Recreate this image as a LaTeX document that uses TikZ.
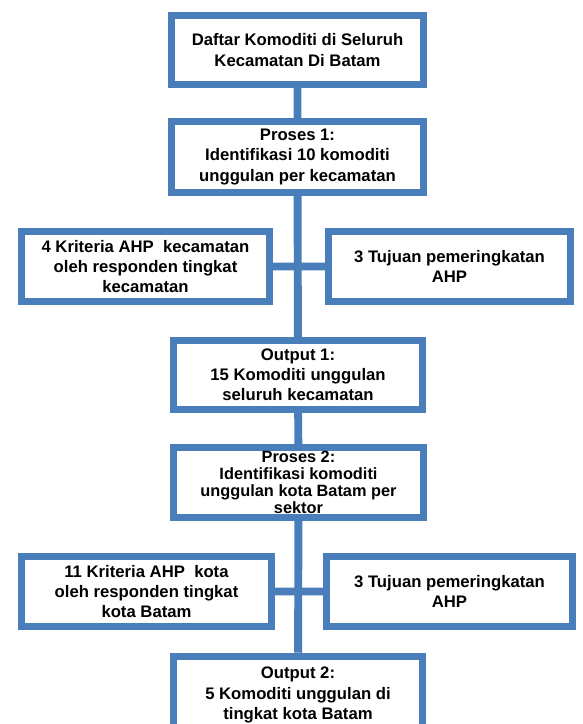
\documentclass[tikz,border=0pt]{standalone}
\usepackage{fontspec}
\setmainfont{Liberation Sans}
\usepackage{tikz}
\usepackage{xcolor}
\definecolor{boxblue}{RGB}{74,126,187}

\begin{document}
\begin{tikzpicture}[
        box/.style={rectangle, draw=boxblue, line width=4pt, fill=white, align=center,
            font=\fontsize{9.5}{11.5}\selectfont\bfseries, inner sep=2pt},
        link/.style={draw=boxblue, line width=4.5pt}]
        \useasboundingbox (0, 0) rectangle (11.66, -14.48);
        \clip (0, 0) rectangle (11.66, -14.48);

        \node[box, minimum width=5.04cm, minimum height=1.38cm] (d) at (5.95, -1.00) {Daftar Komoditi di Seluruh\\Kecamatan Di Batam};
        \node[box, minimum width=5.04cm, minimum height=1.42cm] (p1) at (5.95, -3.14) {Proses 1:\\Identifikasi 10 komoditi\\unggulan per kecamatan};
        \node[box, minimum width=4.96cm, minimum height=1.40cm] (k1) at (2.91, -5.33) {4 Kriteria AHP\ \ kecamatan\\oleh responden tingkat\\kecamatan};
        \node[box, minimum width=4.84cm, minimum height=1.40cm] (t1) at (8.99, -5.33) {3 Tujuan pemeringkatan\\AHP};
        \node[box, minimum width=4.98cm, minimum height=1.38cm] (o1) at (5.96, -7.50) {Output 1:\\15 Komoditi unggulan\\seluruh kecamatan};
        \node[box, minimum width=5.00cm, minimum height=1.40cm, font=\fontsize{9.3}{9.8}\selectfont\bfseries, inner sep=2pt] (p2) at (5.97, -9.65) {Proses 2:\\Identifikasi komoditi\\unggulan kota Batam per\\sektor};
        \node[box, minimum width=5.00cm, minimum height=1.40cm] (k2) at (2.93, -11.83) {11 Kriteria AHP\ \ kota\\oleh responden tingkat\\kota Batam};
        \node[box, minimum width=4.92cm, minimum height=1.40cm] (t2) at (8.99, -11.83) {3 Tujuan pemeringkatan\\AHP};
        \node[box, minimum width=4.98cm, minimum height=1.55cm] (o2) at (5.96, -13.90) {Output 2:\\5 Komoditi unggulan di\\tingkat kota Batam};

        \path[link] (d) to (p1)
            (p1) to (o1)
            (k1) to (t1)
            (o1) to (p2)
            (p2) to (o2)
            (k2) to (t2);
    \end{tikzpicture}
\end{document}
